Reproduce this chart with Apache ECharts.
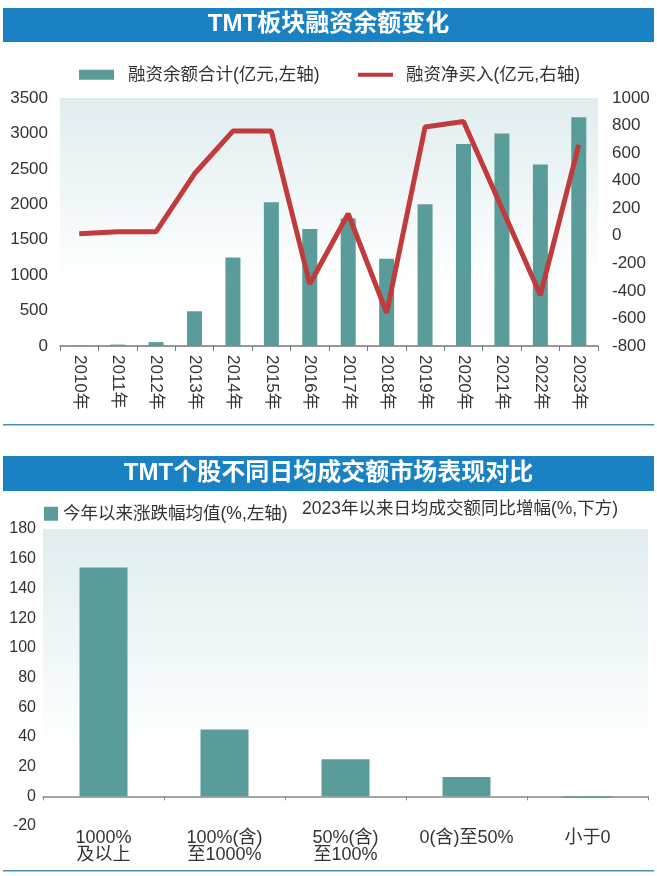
<!DOCTYPE html>
<html><head><meta charset="utf-8">
<script src="https://cdn.jsdelivr.net/npm/echarts@6/dist/echarts.min.js"></script>
<style>html,body{margin:0;padding:0;background:#fff}#c{width:657px;height:876px}</style>
</head><body><div id="c"></div>
<script>
var years = ['2010年','2011年','2012年','2013年','2014年','2015年','2016年','2017年','2018年','2019年','2020年','2021年','2022年','2023年'];
var balance = [5, 20, 55, 490, 1250, 2030, 1650, 1800, 1230, 2000, 2850, 3000, 2560, 3230];
var netBuy = [15, 30, 30, 450, 760, 760, -350, 160, -560, 790, 830, 200, -430, 660];
var groups = ['1000%\n及以上', '100%(含)\n至1000%', '50%(含)\n至100%', '0(含)至50%', '小于0'];
var avgChange = [154, 45, 25, 13, -1];

var font = '"Liberation Sans","Noto Sans CJK SC",sans-serif';
var plain = function (v) { return String(v); };
var chart = echarts.init(document.getElementById('c'), null, {renderer:'canvas'});
var bg = new echarts.graphic.LinearGradient(0,0,0,1,[{offset:0,color:'#e0edef'},{offset:0.75,color:'#ffffff'},{offset:1,color:'#ffffff'}]);
chart.setOption({
  animation:false,
  textStyle:{fontFamily:font},
  graphic:[
    {type:'rect',shape:{x:3,y:8,width:651,height:34},style:{fill:'#1a81c3'}},
    {type:'text',left:'center',top:12,style:{text:'TMT板块融资余额变化',fill:'#fff',font:'bold 24px "Liberation Sans","Noto Sans CJK SC",sans-serif'}},
    {type:'rect',shape:{x:3,y:456,width:651,height:35},style:{fill:'#1a81c3'}},
    {type:'text',left:'center',top:461,style:{text:'TMT个股不同日均成交额市场表现对比',fill:'#fff',font:'bold 24px "Liberation Sans","Noto Sans CJK SC",sans-serif'}},
    {type:'rect',shape:{x:3,y:424,width:651,height:1.5},style:{fill:'#4a8db0'}},
    {type:'rect',shape:{x:3,y:870,width:651,height:1.5},style:{fill:'#4a8db0'}},
    {type:'text',left:302,top:500,style:{text:'2023年以来日均成交额同比增幅(%,下方)',fill:'#333',font:'17.5px "Liberation Sans","Noto Sans CJK SC",sans-serif'}}
  ],
  legend:[
    {top:61,left:74,itemWidth:35,itemHeight:10,textStyle:{fontSize:17.5,color:'#333',fontFamily:font,padding:[0,0,0,9]},
     data:[{name:'融资余额合计(亿元,左轴)',icon:'rect'}]},
    {top:61,left:353,itemWidth:35,itemHeight:4,textStyle:{fontSize:17.5,color:'#333',fontFamily:font,padding:[0,0,0,8]},
     data:[{name:'融资净买入(亿元,右轴)',icon:'rect',itemStyle:{color:'#c13b3c'}}]},
    {top:500,left:39,itemWidth:14,itemHeight:14,textStyle:{fontSize:17.5,color:'#333',fontFamily:font},
     data:[{name:'今年以来涨跌幅均值(%,左轴)',icon:'rect'}]}
  ],
  grid:[
    {left:60,right:59,top:98,height:248,show:true,backgroundColor:bg,borderWidth:0,containLabel:false,outerBoundsMode:'none'},
    {left:43,right:9,top:529,height:297,show:true,backgroundColor:bg,borderWidth:0,containLabel:false,outerBoundsMode:'none'}
  ],
  xAxis:[
    {type:'category',gridIndex:0,data:years,
     axisLine:{lineStyle:{color:'#777',width:1.5}},axisTick:{show:true,length:5,inside:false,lineStyle:{color:'#777'}},
     axisLabel:{rotate:-90,fontSize:17,color:'#333',margin:9,interval:0}},
    {type:'category',gridIndex:1,data:groups,
     axisLine:{onZero:true,lineStyle:{color:'#888',width:1.5}},axisTick:{show:true,length:4,lineStyle:{color:'#888'}},
     axisLabel:{fontSize:18,color:'#333',margin:4,lineHeight:17,interval:0}}
  ],
  yAxis:[
    {type:'value',gridIndex:0,min:0,max:3500,interval:500,axisLine:{show:false},axisTick:{show:false},splitLine:{show:false},
     axisLabel:{fontSize:17,color:'#333',margin:12,formatter:plain}},
    {type:'value',gridIndex:0,position:'right',min:-800,max:1000,interval:200,axisLine:{show:false},axisTick:{show:false},splitLine:{show:false},
     axisLabel:{fontSize:17,color:'#333',margin:14,formatter:plain}},
    {type:'value',gridIndex:1,min:-20,max:180,interval:20,axisLine:{show:false},axisTick:{show:false},splitLine:{show:false},
     axisLabel:{fontSize:16,color:'#333',margin:7,formatter:plain}}
  ],
  series:[
    {name:'融资余额合计(亿元,左轴)',type:'bar',xAxisIndex:0,yAxisIndex:0,data:balance,barWidth:15,itemStyle:{color:'#5a9c9a'}},
    {name:'融资净买入(亿元,右轴)',type:'line',xAxisIndex:0,yAxisIndex:1,data:netBuy,symbol:'none',lineStyle:{color:'#c13b3c',width:5},itemStyle:{color:'#c13b3c'}},
    {name:'今年以来涨跌幅均值(%,左轴)',type:'bar',xAxisIndex:1,yAxisIndex:2,data:avgChange,barWidth:48,itemStyle:{color:'#5a9c9a'}}
  ]
});
</script></body></html>
